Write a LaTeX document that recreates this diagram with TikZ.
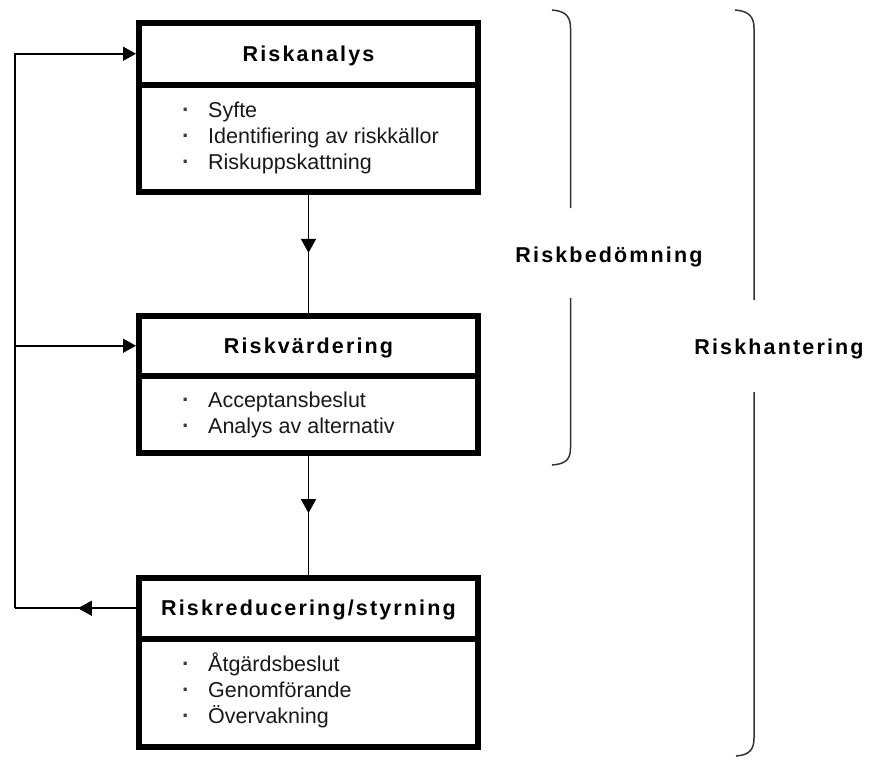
\documentclass[tikz,border=0pt]{standalone}
\usepackage{fontspec}
\setmainfont{Liberation Sans}
\newfontfamily\ttlfont{Liberation Sans}[LetterSpace=10]
\usetikzlibrary{arrows.meta,decorations.markings}
\tikzset{
  box/.style={draw, line width=6pt, minimum width=339pt, inner sep=0pt},
  ttl/.style={box, font=\ttlfont\bfseries\fontsize{21.5}{24}\selectfont, text height=22pt, text depth=7pt},
  item/.style={anchor=base west, inner sep=0pt, font=\fontsize{21.5}{26}\selectfont, text=black!90},
  bul/.style={anchor=base, inner sep=0pt, font=\bfseries\fontsize{23}{26}\selectfont, text=black!75},
  conn/.style={line width=1.6pt},
  tip/.style={-{Triangle[width=14pt,length=13pt]}},
  midtip/.style={postaction={decorate}, decoration={markings, mark=at position #1 with {\arrow{Triangle[width=15pt,length=14pt]}}}},
  brace/.style={line width=1.5pt, draw=black!80},
  lbl/.style={anchor=base, inner sep=0pt, font=\ttlfont\bfseries\fontsize{21.5}{24}\selectfont},
}
\begin{document}
\begin{tikzpicture}[x=1pt,y=-1pt]
\useasboundingbox[fill=white] (0,0) rectangle (869,760);

% Box 1
\node[ttl, minimum height=61.5pt] (t1) at (308.5,53.75) {Riskanalys};
\node[box, minimum height=107.5pt] (b1) at (308.5,138.25) {};
\node[bul] (d1a) at (186,117) {·};
\node[item] (i1a) at (208,117) {Syfte};
\node[bul] (d1b) at (186,143) {·};
\node[item] (i1b) at (208,143) {Identifiering av riskkällor};
\node[bul] (d1c) at (186,169) {·};
\node[item] (i1c) at (208,169) {Riskuppskattning};

% Box 2
\node[ttl, minimum height=59.5pt] (t2) at (308.5,345.75) {Riskvärdering};
\node[box, minimum height=77.5pt] (b2) at (308.5,414.25) {};
\node[bul] (d2a) at (186,407) {·};
\node[item] (i2a) at (208,407) {Acceptansbeslut};
\node[bul] (d2b) at (186,433.5) {·};
\node[item] (i2b) at (208,433.5) {Analys av alternativ};

% Box 3
\node[ttl, minimum height=60.5pt] (t3) at (308.5,608.25) {Riskreducering/styrning};
\node[box, minimum height=108.5pt] (b3) at (308.5,692.75) {};
\node[bul] (d3a) at (186,671) {·};
\node[item] (i3a) at (208,671) {Åtgärdsbeslut};
\node[bul] (d3b) at (186,697) {·};
\node[item] (i3b) at (208,697) {Genomförande};
\node[bul] (d3c) at (186,723) {·};
\node[item] (i3c) at (208,723) {Övervakning};

% Connectors
\draw[conn, midtip=0.49] (b1.south) -- (t2.north);
\draw[conn, midtip=0.48] (b2.south) -- (t3.north);
\path (t3.west) ++(-121,0) coordinate (fb);
\draw[conn, midtip=0.48] (t3.west) -- (fb);
\draw[conn, tip] (fb) |- (t1.west);
\draw[conn, tip] (fb |- t2.west) -- (t2.west);

% Brackets and labels
\node[lbl] (rb) at (609,262) {Riskbedömning};
\node[lbl] (rh) at (779,354) {Riskhantering};
\draw[brace] (552,10) .. controls (566,11) and (570.5,17) .. (570.5,28) -- (570.5,208);
\draw[brace] (570.5,298) -- (570.5,448) .. controls (570.5,459) and (566,464) .. (552,465);
\draw[brace] (735,10) .. controls (749,11) and (754,17) .. (754,28) -- (754,300);
\draw[brace] (754,392) -- (754,738) .. controls (754,749) and (750,755) .. (736,756);
\end{tikzpicture}
\end{document}
